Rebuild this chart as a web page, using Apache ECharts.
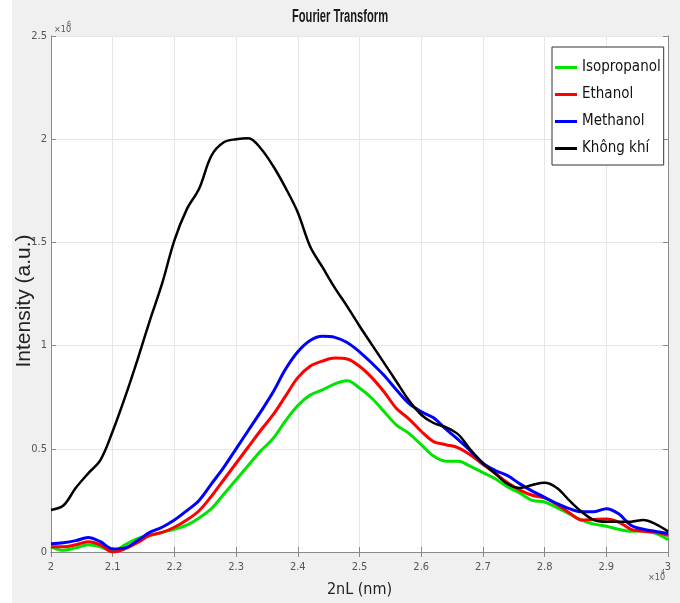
<!DOCTYPE html>
<html>
<head>
<meta charset="utf-8">
<title>Fourier Transform</title>
<script src="https://cdn.jsdelivr.net/npm/echarts@6.0.0/dist/echarts.min.js"></script>
<style>
  html, body { margin: 0; padding: 0; background: #f0f0f0; }
  #chart { width: 680px; height: 603px; }
</style>
</head>
<body>
<div id="chart"></div>
<script>
  // x in units of 1e4 nm, y in units of 1e6 (a.u.), every 0.02
  const xTicks = [2, 2.1, 2.2, 2.3, 2.4, 2.5, 2.6, 2.7, 2.8, 2.9, 3]
  const yTicks = [0, 0.5, 1, 1.5, 2, 2.5]
  const seriesNames = ['Isopropanol', 'Ethanol', 'Methanol', 'Không khí']
  const seriesColors = ['#00e400', '#ff0000', '#0000ff', '#000000']

  const xs = [2.00, 2.02, 2.04, 2.06, 2.08, 2.10, 2.12, 2.14, 2.16, 2.18,
    2.20, 2.22, 2.24, 2.26, 2.28, 2.30, 2.32, 2.34, 2.36, 2.38,
    2.40, 2.42, 2.44, 2.46, 2.48, 2.50, 2.52, 2.54, 2.56, 2.58,
    2.60, 2.62, 2.64, 2.66, 2.68, 2.70, 2.72, 2.74, 2.76, 2.78,
    2.80, 2.82, 2.84, 2.86, 2.88, 2.90, 2.92, 2.94, 2.96, 2.98, 3.00]

  const isopropanol = [0.025, 0.008, 0.02, 0.035, 0.025, 0.005, 0.035, 0.065, 0.08, 0.095,
    0.11, 0.13, 0.165, 0.21, 0.28, 0.35, 0.42, 0.49, 0.55, 0.635,
    0.71, 0.76, 0.785, 0.815, 0.83, 0.795, 0.745, 0.68, 0.615, 0.575,
    0.52, 0.465, 0.44, 0.44, 0.415, 0.385, 0.355, 0.315, 0.285, 0.25,
    0.242, 0.215, 0.185, 0.155, 0.135, 0.125, 0.11, 0.10, 0.103, 0.09, 0.06]

  const ethanol = [0.025, 0.025, 0.035, 0.05, 0.035, 0.0, 0.015, 0.045, 0.08, 0.095,
    0.12, 0.155, 0.2, 0.27, 0.35, 0.43, 0.51, 0.59, 0.665, 0.755,
    0.845, 0.9, 0.925, 0.94, 0.935, 0.90, 0.845, 0.775, 0.695, 0.645,
    0.585, 0.535, 0.52, 0.505, 0.47, 0.425, 0.38, 0.335, 0.30, 0.275,
    0.262, 0.23, 0.19, 0.155, 0.158, 0.16, 0.145, 0.11, 0.10, 0.095, 0.08]

  const methanol = [0.04, 0.045, 0.055, 0.07, 0.05, 0.015, 0.02, 0.055, 0.095, 0.12,
    0.155, 0.2, 0.25, 0.33, 0.41, 0.5, 0.59, 0.68, 0.775, 0.885,
    0.97, 1.025, 1.045, 1.04, 1.015, 0.97, 0.915, 0.855, 0.785, 0.72,
    0.68, 0.65, 0.595, 0.545, 0.49, 0.43, 0.395, 0.37, 0.33, 0.295,
    0.265, 0.235, 0.21, 0.195, 0.195, 0.21, 0.185, 0.13, 0.11, 0.10, 0.09]

  const khongKhi = [0.204, 0.225, 0.31, 0.38, 0.445, 0.585, 0.75, 0.93, 1.12, 1.30,
    1.51, 1.66, 1.76, 1.92, 1.985, 2.0, 2.005, 1.955, 1.87, 1.765,
    1.645, 1.48, 1.38, 1.28, 1.19, 1.095, 1.005, 0.915, 0.825, 0.735,
    0.665, 0.625, 0.605, 0.57, 0.495, 0.43, 0.38, 0.33, 0.31, 0.325,
    0.335, 0.31, 0.25, 0.195, 0.155, 0.147, 0.147, 0.147, 0.155, 0.135, 0.10]

  const seriesValues = [isopropanol, ethanol, methanol, khongKhi]

  const condensed = '"DejaVu Sans Condensed", "DejaVu Sans", sans-serif'
  const plain = '"Liberation Sans", Arial, sans-serif'
  const boxColor = '#8a8a8a'

  const chart = echarts.init(document.getElementById('chart'))

  const xRange = { min: xTicks[0], max: xTicks[xTicks.length - 1], interval: 0.1 }
  const yRange = { min: yTicks[0], max: yTicks[yTicks.length - 1], interval: 0.5 }
  const innerTick = { show: true, inside: true, length: 5, lineStyle: { color: boxColor } }
  const boxLine = { show: true, lineStyle: { color: boxColor } }

  chart.setOption({
    backgroundColor: '#f0f0f0',
    animation: false,
    legend: {
      data: seriesNames,
      orient: 'vertical',
      left: 552,
      top: 47,
      icon: 'rect',
      itemWidth: 22,
      itemHeight: 3,
      itemGap: 12,
      padding: [13, 3, 9, 3],
      backgroundColor: '#ffffff',
      borderColor: '#333',
      borderWidth: 1,
      borderRadius: 0,
      textStyle: { fontFamily: condensed, fontSize: 15, color: '#111' }
    },
    grid: {
      left: 51,
      right: 12,
      top: 36,
      bottom: 51,
      outerBoundsMode: 'none',
      show: true,
      backgroundColor: '#ffffff',
      borderWidth: 0
    },
    xAxis: [
      {
        ...xRange,
        type: 'value',
        name: '2nL (nm)',
        nameLocation: 'middle',
        nameGap: 30,
        nameMoveOverlap: false,
        nameTextStyle: { fontFamily: condensed, fontSize: 16, color: '#222' },
        axisLine: boxLine,
        axisTick: innerTick,
        axisLabel: { fontFamily: condensed, fontSize: 11, color: '#555', margin: 10 },
        splitLine: { show: true, lineStyle: { color: '#e6e6e6' } }
      },
      {
        ...xRange,
        type: 'value',
        position: 'top',
        axisLine: boxLine,
        axisTick: innerTick,
        axisLabel: { show: false },
        splitLine: { show: false }
      }
    ],
    yAxis: [
      {
        ...yRange,
        type: 'value',
        name: 'Intensity (a.u.)',
        nameLocation: 'middle',
        nameGap: 16,
        nameMoveOverlap: false,
        nameTextStyle: { fontFamily: plain, fontSize: 21, color: '#222', padding: [0, 14, 0, 0] },
        axisLine: boxLine,
        axisTick: innerTick,
        axisLabel: { fontFamily: condensed, fontSize: 11, color: '#555', margin: 4 },
        splitLine: { show: true, lineStyle: { color: '#e6e6e6' } }
      },
      {
        ...yRange,
        type: 'value',
        position: 'right',
        axisLine: boxLine,
        axisTick: innerTick,
        axisLabel: { show: false },
        splitLine: { show: false }
      }
    ],
    graphic: [
      { type: 'rect', left: 0, top: 0, shape: { width: 12, height: 603 }, style: { fill: '#ffffff' }, z: -1 },
      {
        type: 'text', x: 340, y: 8, scaleX: 0.62,
        style: { text: 'Fourier Transform', align: 'center', verticalAlign: 'top', fontFamily: plain, fontSize: 18, fontWeight: 'bold', fill: '#1a1a1a' }
      },
      { type: 'text', x: 54, y: 25, style: { text: '×10', fontFamily: condensed, fontSize: 9, fill: '#555' } },
      { type: 'text', x: 67, y: 21, style: { text: '6', fontFamily: condensed, fontSize: 7, fill: '#555' } },
      { type: 'text', x: 648, y: 573, style: { text: '×10', fontFamily: condensed, fontSize: 9, fill: '#555' } },
      { type: 'text', x: 661, y: 569, style: { text: '4', fontFamily: condensed, fontSize: 7, fill: '#555' } }
    ],
    series: seriesNames.map((name, i) => ({
      name,
      type: 'line',
      data: xs.map((x, j) => [x, seriesValues[i][j]]),
      smooth: 0.35,
      showSymbol: false,
      color: seriesColors[i],
      lineStyle: { width: i === 3 ? 2.5 : 3, color: seriesColors[i] }
    }))
  })
</script>
</body>
</html>
